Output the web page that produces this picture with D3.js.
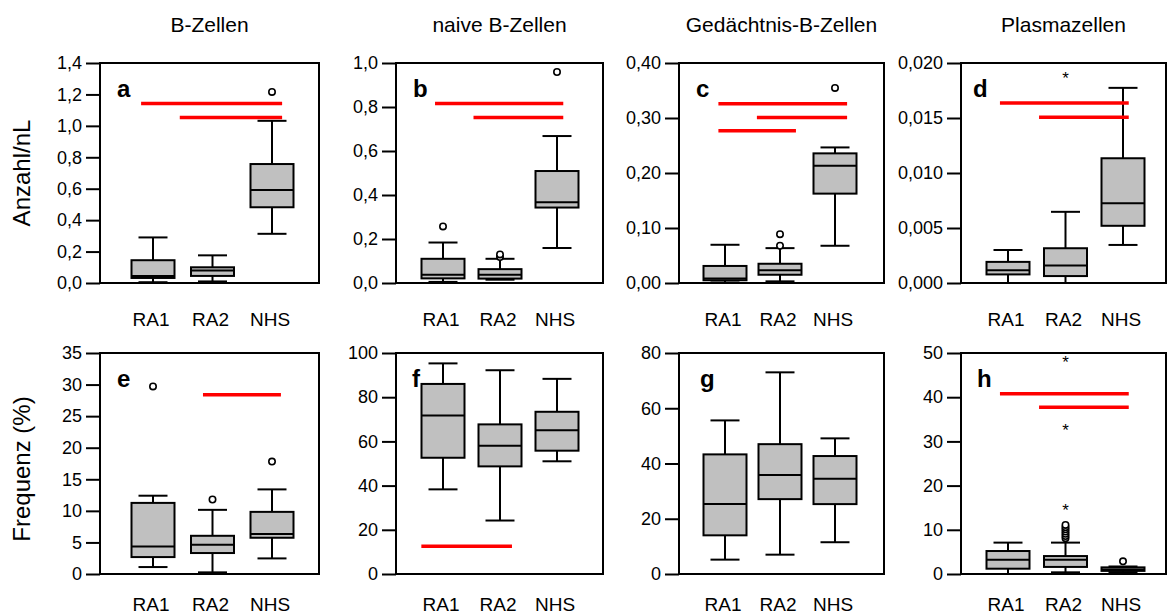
<!DOCTYPE html>
<html>
<head>
<meta charset="utf-8">
<script src="https://cdn.jsdelivr.net/npm/d3@7"></script>
<style>
  html, body { margin: 0; padding: 0; background: #fff; }
  svg { display: block; font-family: "Liberation Sans", Arial, sans-serif; }
</style>
</head>
<body>
<svg id="chart" width="1168" height="616"></svg>
<script>
// ---- data ---------------------------------------------------------------
const groups = ["RA1", "RA2", "NHS"];
const columnTitles = ["B-Zellen", "naive B-Zellen", "Gedächtnis-B-Zellen", "Plasmazellen"];
const rowLabels = ["Anzahl/nL", "Frequenz (%)"];
const panelLetters = ["a", "b", "c", "d", "e", "f", "g", "h"];

// y-axis maxima, tick steps and decimals per panel
const yMax = [1.4, 1.0, 0.40, 0.020, 35, 100, 80, 50];
const yStep = [0.2, 0.2, 0.10, 0.005, 5, 20, 20, 10];
const yDecimals = [1, 1, 2, 3, 0, 0, 0, 0];

// box statistics per group: [lower whisker, Q1, median, Q3, upper whisker]
const statsA = [[0.005, 0.032, 0.045, 0.145, 0.29], [0.01, 0.045, 0.08, 0.10, 0.176], [0.313, 0.482, 0.592, 0.757, 1.032]];
const statsB = [[0.005, 0.021, 0.038, 0.110, 0.184], [0.015, 0.02, 0.038, 0.063, 0.110], [0.159, 0.343, 0.367, 0.509, 0.668]];
const statsC = [[0.001, 0.005, 0.008, 0.031, 0.0695], [0.003, 0.015, 0.023, 0.035, 0.0634], [0.0677, 0.1625, 0.213, 0.2357, 0.2465]];
const statsD = [[0, 0.00078, 0.00117, 0.00192, 0.003], [0, 0.00063, 0.00159, 0.00316, 0.00647], [0.00346, 0.0052, 0.00725, 0.01134, 0.01774]];
const statsE = [[1.1, 2.68, 4.37, 11.26, 12.4], [0.26, 3.32, 4.63, 6.05, 10.16], [2.47, 5.74, 6.32, 9.84, 13.4]];
const statsF = [[38.3, 52.6, 71.7, 86.0, 95.3], [24.2, 48.7, 58.0, 67.7, 92.2], [51.0, 55.8, 65.1, 73.4, 88.3]];
const statsG = [[5.2, 14.0, 25.3, 43.3, 55.6], [7.0, 27.1, 35.8, 47.0, 73.0], [11.5, 25.3, 34.5, 42.7, 49.1]];
const statsH = [[0, 1.2, 3.2, 5.2, 7.1], [0.38, 1.6, 3.2, 4.06, 7.1], [0.4, 0.7, 1.0, 1.5, 1.7]];

// outliers (circles) per group
const outA = [[], [], [1.216]];
const outB = [[0.257], [0.118, 0.13], [0.959]];
const outC = [[], [0.0677, 0.0888], [0.3547]];
const outD = [[], [], []];
const outE = [[29.7], [11.8], [17.8]];
const outF = [[], [], []];
const outG = [[], [], []];
const outH = [[], [8.1, 8.6, 9.1, 9.6, 10.1, 10.6, 11.1], [2.86]];

// extreme values (asterisks) per group
const extA = [[], [], []];
const extB = [[], [], []];
const extC = [[], [], []];
const extD = [[], [0.0188], []];
const extE = [[], [], []];
const extF = [[], [], []];
const extG = [[], [], []];
const extH = [[], [14.9, 33.1, 48.5], []];

// significance bars: [from group position, to group position, value]
const sigA = [[-0.2, 2.17, 1.142], [0.45, 2.17, 1.053]];
const sigB = [[-0.14, 2.11, 0.816], [0.535, 2.11, 0.752]];
const sigC = [[-0.12, 2.22, 0.326], [0.58, 2.22, 0.301], [-0.12, 1.29, 0.277]];
const sigD = [[-0.14, 2.1, 0.01636], [0.54, 2.1, 0.01507]];
const sigE = [[0.84, 2.15, 28.4]];
const sigF = [[-0.38, 1.21, 12.6]];
const sigG = [];
const sigH = [[-0.14, 2.1, 40.8], [0.54, 2.1, 37.7]];

const allStats = [statsA, statsB, statsC, statsD, statsE, statsF, statsG, statsH];
const allOut = [outA, outB, outC, outD, outE, outF, outG, outH];
const allExt = [extA, extB, extC, extD, extE, extF, extG, extH];
const allSig = [sigA, sigB, sigC, sigD, sigE, sigF, sigG, sigH];

// ---- layout -------------------------------------------------------------
const colFrames = [[100, 319], [396, 603], [679, 884], [961, 1166]];
const colGroupRange = [[53, 172], [47, 161], [46, 156], [47, 162]];
const rowFrames = [[63, 283], [353, 574]];
const letterDx = [17, 17, 17, 12, 17, 16, 21, 16];
const boxW = 43;
const capW = 29;

const svg = d3.select("#chart");
const locale = d3.formatLocale({ decimal: ",", thousands: ".", grouping: [3], currency: ["", ""] });
const font = "'Liberation Sans', Arial, sans-serif";

// column titles
columnTitles.forEach((t, c) => {
  svg.append("text")
    .attr("x", (colFrames[c][0] + colFrames[c][1]) / 2)
    .attr("y", 32)
    .attr("text-anchor", "middle")
    .attr("font-size", 21)
    .attr("fill", "#000")
    .text(t);
});

// row labels
rowLabels.forEach((t, r) => {
  const cy = r === 0 ? 173 : 469;
  svg.append("text")
    .attr("transform", `translate(24,${cy}) rotate(-90)`)
    .attr("text-anchor", "middle")
    .attr("dominant-baseline", "middle")
    .attr("font-size", 24)
    .attr("fill", "#000")
    .text(t);
});

for (let p = 0; p < 8; p++) {
  const row = Math.floor(p / 4), col = p % 4;
  const [x0, x1] = colFrames[col];
  const [y0, y1] = rowFrames[row];
  const g = svg.append("g");

  const y = d3.scaleLinear().domain([0, yMax[p]]).range([y1, y0]);
  const x = d3.scalePoint().domain(groups)
    .range([x0 + colGroupRange[col][0], x0 + colGroupRange[col][1]]);
  const step = x.step();
  const xPos = i => x(groups[0]) + i * step;

  // frame
  g.append("rect")
    .attr("x", x0).attr("y", y0)
    .attr("width", x1 - x0).attr("height", y1 - y0)
    .attr("fill", "#fff")
    .attr("stroke", "#000")
    .attr("stroke-width", 2);

  // y axis
  const ticks = d3.range(0, yMax[p] + yStep[p] / 2, yStep[p]);
  const axis = d3.axisLeft(y)
    .tickValues(ticks)
    .tickSize(14)
    .tickPadding(4)
    .tickFormat(locale.format(`.${yDecimals[p]}f`));
  const ag = g.append("g").attr("transform", `translate(${x0},0)`).call(axis);
  ag.select(".domain").remove();
  ag.selectAll(".tick line").attr("stroke", "#000").attr("stroke-width", 2);
  ag.selectAll(".tick text")
    .attr("font-family", font)
    .attr("font-size", 18)
    .attr("fill", "#000");

  // category labels
  groups.forEach(gr => {
    g.append("text")
      .attr("x", x(gr) - 2)
      .attr("y", row === 0 ? 326 : 611)
      .attr("text-anchor", "middle")
      .attr("font-size", 19)
      .attr("fill", "#000")
      .text(gr);
  });

  // boxes
  allStats[p].forEach((s, i) => {
    const cx = x(groups[i]);
    const [lo, q1, med, q3, hi] = s;
    const bg = g.append("g");
    bg.append("line")
      .attr("x1", cx).attr("x2", cx)
      .attr("y1", y(hi)).attr("y2", y(lo))
      .attr("stroke", "#000").attr("stroke-width", 2);
    [lo, hi].forEach(v => {
      bg.append("line")
        .attr("x1", cx - capW / 2).attr("x2", cx + capW / 2)
        .attr("y1", y(v)).attr("y2", y(v))
        .attr("stroke", "#000").attr("stroke-width", 2);
    });
    bg.append("rect")
      .attr("x", cx - boxW / 2).attr("width", boxW)
      .attr("y", y(q3)).attr("height", Math.max(1, y(q1) - y(q3)))
      .attr("fill", "#c0c0c0")
      .attr("stroke", "#000").attr("stroke-width", 2);
    bg.append("line")
      .attr("x1", cx - boxW / 2).attr("x2", cx + boxW / 2)
      .attr("y1", y(med)).attr("y2", y(med))
      .attr("stroke", "#000").attr("stroke-width", 2);

    allOut[p][i].forEach(v => {
      bg.append("circle")
        .attr("cx", cx).attr("cy", y(v)).attr("r", 3.2)
        .attr("fill", "#fff")
        .attr("stroke", "#000").attr("stroke-width", 1.6);
    });
    allExt[p][i].forEach(v => {
      bg.append("text")
        .attr("x", cx).attr("y", y(v) + 8)
        .attr("text-anchor", "middle")
        .attr("font-size", 17)
        .attr("fill", "#000")
        .text("*");
    });
  });

  // significance bars
  allSig[p].forEach(([a, b, v]) => {
    g.append("line")
      .attr("x1", xPos(a)).attr("x2", xPos(b))
      .attr("y1", y(v)).attr("y2", y(v))
      .attr("stroke", "#ff0000").attr("stroke-width", 3.5);
  });

  // panel letter
  g.append("text")
    .attr("x", x0 + letterDx[p])
    .attr("y", y0 + 34)
    .attr("font-size", 24)
    .attr("font-weight", "bold")
    .attr("fill", "#000")
    .text(panelLetters[p]);
}
</script>
</body>
</html>
